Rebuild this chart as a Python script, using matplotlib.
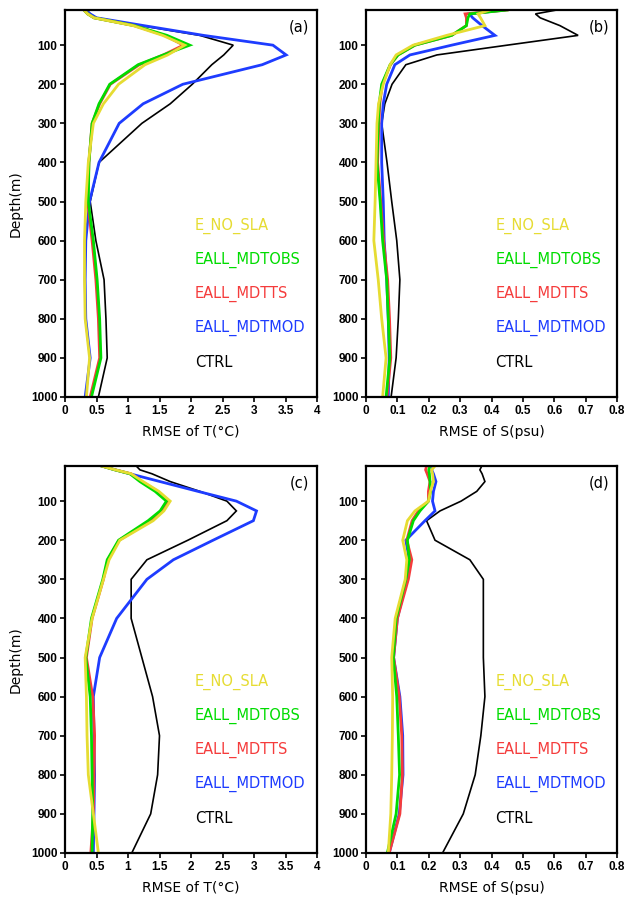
import numpy as np
import matplotlib
matplotlib.use("Agg")
import matplotlib.pyplot as plt

# depth levels (m)
depth = [10, 20, 30, 50, 75, 100, 125, 150, 200, 250, 300, 400, 500, 600, 700, 800, 900, 1000]

# (a) RMSE of T, first period
ctrl_a  = [0.35, 0.40, 0.50, 1.20, 2.14, 2.67, 2.52, 2.33, 2.02, 1.67, 1.22, 0.54, 0.40, 0.49, 0.62, 0.65, 0.67, 0.53]
mod_a   = [0.32, 0.40, 0.50, 1.25, 2.20, 3.30, 3.51, 3.13, 1.87, 1.24, 0.86, 0.54, 0.39, 0.33, 0.32, 0.33, 0.40, 0.32]
obs_a   = [0.30, 0.36, 0.46, 1.10, 1.62, 1.98, 1.56, 1.16, 0.71, 0.54, 0.43, 0.38, 0.37, 0.45, 0.51, 0.55, 0.57, 0.42]
ts_a    = [0.30, 0.36, 0.46, 1.10, 1.58, 1.88, 1.56, 1.18, 0.72, 0.55, 0.43, 0.38, 0.36, 0.43, 0.49, 0.53, 0.55, 0.40]
nosla_a = [0.30, 0.36, 0.46, 1.08, 1.55, 1.90, 1.63, 1.27, 0.85, 0.61, 0.45, 0.37, 0.33, 0.31, 0.31, 0.32, 0.39, 0.34]

# (b) RMSE of S, first period
ctrl_b  = [0.608, 0.54, 0.555, 0.618, 0.676, 0.45, 0.226, 0.127, 0.083, 0.060, 0.050, 0.067, 0.082, 0.098, 0.108, 0.103, 0.096, 0.080]
mod_b   = [0.44, 0.33, 0.34, 0.37, 0.411, 0.273, 0.140, 0.092, 0.066, 0.055, 0.050, 0.050, 0.055, 0.058, 0.066, 0.071, 0.074, 0.071]
obs_b   = [0.45, 0.331, 0.325, 0.32, 0.273, 0.156, 0.102, 0.077, 0.050, 0.042, 0.039, 0.035, 0.045, 0.053, 0.066, 0.071, 0.076, 0.064]
ts_b    = [0.45, 0.316, 0.32, 0.32, 0.273, 0.156, 0.102, 0.078, 0.052, 0.044, 0.041, 0.037, 0.047, 0.056, 0.069, 0.075, 0.079, 0.067]
nosla_b = [0.395, 0.357, 0.365, 0.379, 0.257, 0.150, 0.096, 0.077, 0.055, 0.040, 0.035, 0.032, 0.029, 0.025, 0.039, 0.050, 0.064, 0.053]

# (c) RMSE of T, second period
ctrl_c  = [1.13, 1.19, 1.38, 1.67, 2.14, 2.57, 2.72, 2.57, 1.95, 1.30, 1.05, 1.05, 1.22, 1.39, 1.50, 1.47, 1.36, 1.06]
mod_c   = [0.58, 0.80, 1.03, 1.51, 2.11, 2.72, 3.04, 2.99, 2.35, 1.72, 1.30, 0.82, 0.55, 0.45, 0.46, 0.47, 0.46, 0.45]
obs_c   = [0.58, 0.79, 1.03, 1.19, 1.43, 1.61, 1.51, 1.32, 0.85, 0.67, 0.60, 0.42, 0.33, 0.40, 0.42, 0.43, 0.44, 0.43]
ts_c    = [0.58, 0.80, 1.05, 1.22, 1.47, 1.65, 1.54, 1.36, 0.86, 0.68, 0.61, 0.43, 0.34, 0.44, 0.47, 0.46, 0.45, 0.41]
nosla_c = [0.58, 0.80, 1.05, 1.24, 1.49, 1.67, 1.57, 1.40, 0.87, 0.70, 0.61, 0.43, 0.32, 0.34, 0.35, 0.37, 0.45, 0.53]

# (d) RMSE of S, second period
ctrl_d  = [0.369, 0.363, 0.370, 0.379, 0.353, 0.303, 0.236, 0.193, 0.220, 0.331, 0.374, 0.374, 0.374, 0.379, 0.366, 0.348, 0.310, 0.244]
mod_d   = [0.215, 0.209, 0.215, 0.223, 0.215, 0.212, 0.220, 0.188, 0.127, 0.138, 0.130, 0.100, 0.088, 0.108, 0.117, 0.118, 0.106, 0.074]
obs_d   = [0.204, 0.200, 0.202, 0.204, 0.206, 0.199, 0.172, 0.151, 0.132, 0.138, 0.127, 0.096, 0.087, 0.098, 0.103, 0.107, 0.096, 0.068]
ts_d    = [0.193, 0.190, 0.195, 0.204, 0.199, 0.199, 0.167, 0.147, 0.130, 0.146, 0.135, 0.100, 0.088, 0.106, 0.114, 0.116, 0.108, 0.074]
nosla_d = [0.220, 0.209, 0.212, 0.215, 0.205, 0.199, 0.156, 0.132, 0.117, 0.130, 0.125, 0.093, 0.082, 0.085, 0.084, 0.082, 0.079, 0.071]

names = ["E_NO_SLA", "EALL_MDTOBS", "EALL_MDTTS", "EALL_MDTMOD", "CTRL"]
colors = {"E_NO_SLA": "#e6dc32", "EALL_MDTOBS": "#00dc00", "EALL_MDTTS": "#f53c3c",
          "EALL_MDTMOD": "#1e3cff", "CTRL": "black"}

T_ticks = [0, 0.5, 1, 1.5, 2, 2.5, 3, 3.5, 4]
T_labels = ["0", "0.5", "1", "1.5", "2", "2.5", "3", "3.5", "4"]
S_ticks = [0, 0.1, 0.2, 0.3, 0.4, 0.5, 0.6, 0.7, 0.8]
S_labels = ["0", "0.1", "0.2", "0.3", "0.4", "0.5", "0.6", "0.7", "0.8"]
depth_ticks = [100, 200, 300, 400, 500, 600, 700, 800, 900, 1000]

panels = [
    ("(a)", [0.1035, 0.5584, 0.4013, 0.4305], dict(E_NO_SLA=nosla_a, EALL_MDTOBS=obs_a, EALL_MDTTS=ts_a, EALL_MDTMOD=mod_a, CTRL=ctrl_a), "T", True),
    ("(b)", [0.5828, 0.5584, 0.3997, 0.4305], dict(E_NO_SLA=nosla_b, EALL_MDTOBS=obs_b, EALL_MDTTS=ts_b, EALL_MDTMOD=mod_b, CTRL=ctrl_b), "S", False),
    ("(c)", [0.1035, 0.0512, 0.4013, 0.4305], dict(E_NO_SLA=nosla_c, EALL_MDTOBS=obs_c, EALL_MDTTS=ts_c, EALL_MDTMOD=mod_c, CTRL=ctrl_c), "T", True),
    ("(d)", [0.5828, 0.0512, 0.3997, 0.4305], dict(E_NO_SLA=nosla_d, EALL_MDTOBS=obs_d, EALL_MDTTS=ts_d, EALL_MDTMOD=mod_d, CTRL=ctrl_d), "S", False),
]

fig = plt.figure(figsize=(6.28, 8.99), dpi=100)

for tag, rect, series, var, left in panels:
    ax = fig.add_axes(rect)
    # draw order: black underneath, then blue, red, green, yellow
    for nm in ["CTRL", "EALL_MDTMOD", "EALL_MDTTS", "EALL_MDTOBS", "E_NO_SLA"]:
        lw = 1.2 if nm == "CTRL" else 2.0
        ax.plot(series[nm], depth, color=colors[nm], lw=lw, solid_joinstyle="miter")

    ax.set_ylim(1000, 10)
    ax.set_yticks(depth_ticks)
    ax.set_yticklabels([str(d) for d in depth_ticks], fontsize=8.5,
                       fontweight="bold", family="Liberation Sans")
    if var == "T":
        ax.set_xlim(0, 4)
        ax.set_xticks(T_ticks)
        ax.set_xticklabels(T_labels, fontsize=8.5, fontweight="bold", family="Liberation Sans")
        ax.set_xlabel("RMSE of T(\u00b0C)", fontsize=10, labelpad=6)
    else:
        ax.set_xlim(0, 0.8)
        ax.set_xticks(S_ticks)
        ax.set_xticklabels(S_labels, fontsize=8.5, fontweight="bold", family="Liberation Sans")
        ax.set_xlabel("RMSE of S(psu)", fontsize=10, labelpad=6)
    if left:
        ax.set_ylabel("Depth(m)", fontsize=10, labelpad=6)

    ax.tick_params(direction="out", length=3.5, width=1.2, pad=2)
    for sp in ax.spines.values():
        sp.set_linewidth(1.6)

    ax.text(0.97, 0.955, tag, transform=ax.transAxes, ha="right", va="center", fontsize=10.5)

    ys = [0.442, 0.354, 0.266, 0.178, 0.088]
    for nm, yy in zip(names, ys):
        ax.text(0.515, yy, nm, transform=ax.transAxes, ha="left", va="center",
                fontsize=10.5, color=colors[nm])

fig.savefig("out.png", dpi=100)
